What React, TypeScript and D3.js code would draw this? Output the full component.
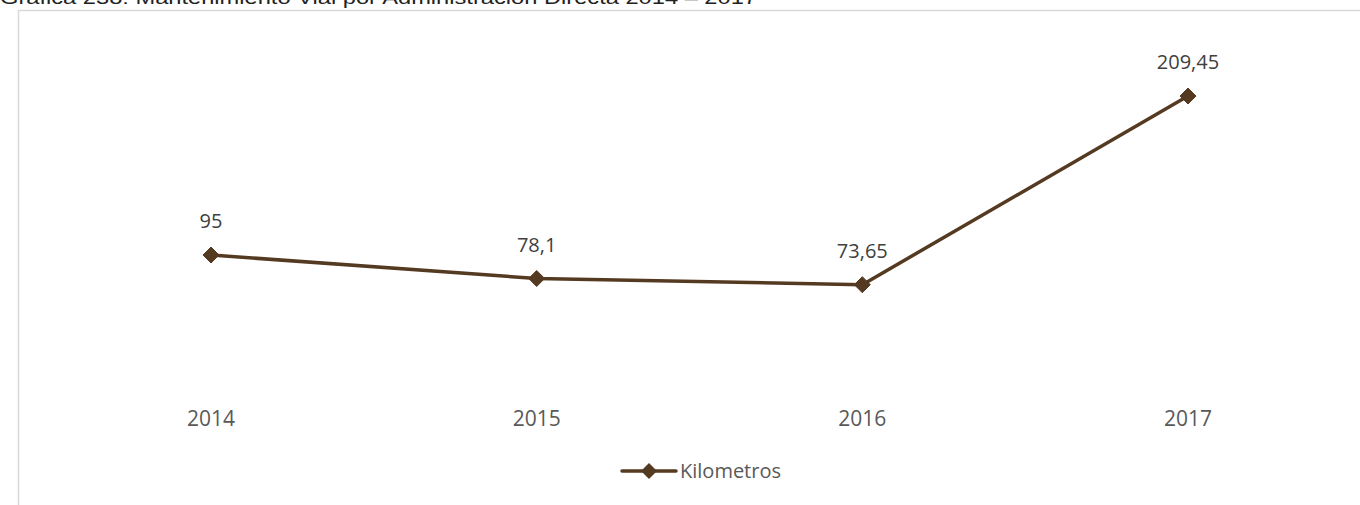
import React from "react";
import * as d3 from "d3";

const title = "Gráfica 238: Mantenimiento Vial por Administración Directa 2014 – 2017";
const categories = ["2014", "2015", "2016", "2017"];
const values = [95, 78.1, 73.65, 209.45];
const labels = ["95", "78,1", "73,65", "209,45"];
const seriesName = "Kilometros";

export default function App() {
  const W = 1360, H = 505;
  const x = d3.scalePoint<string>().domain(categories).range([211, 1188]);
  const y = d3.scaleLinear().domain([0, 250]).range([387, 39.7]);
  const line = d3.line<number>().x((_, i) => x(categories[i])!).y((d) => y(d));
  const color = "#553A22";
  const diamond = (cx: number, cy: number, r: number) =>
    `M${cx},${cy - r}L${cx + r},${cy}L${cx},${cy + r}L${cx - r},${cy}Z`;
  const font = "'Open Sans', sans-serif";
  return (
    <svg width={W} height={H} style={{ position: "absolute", left: 0, top: 0, background: "#fff" }}>
      <text x={0} y={4} fontFamily="'Liberation Sans', sans-serif" fontSize={18} fill="#222" textLength={757} lengthAdjust="spacingAndGlyphs">{title}</text>
      <rect x={18.5} y={10.5} width={1400} height={600} fill="none" stroke="#d9d9d9" strokeWidth={1.5} />
      <path d={line(values)!} fill="none" stroke={color} strokeWidth={3.5} strokeLinejoin="round" />
      {values.map((v, i) => (
        <path key={i} d={diamond(x(categories[i])!, y(v), 8)} fill={color} stroke={color} strokeWidth={1} strokeLinejoin="round" />
      ))}
      {values.map((v, i) => (
        <text key={"l" + i} x={x(categories[i])!} y={y(v) - 27} textAnchor="middle" fontFamily={font} fontSize={20} fill="#404040">{labels[i]}</text>
      ))}
      {categories.map((c) => (
        <text key={c} x={x(c)!} y={426} textAnchor="middle" fontFamily={font} fontSize={21} fill="#595959">{c}</text>
      ))}
      <line x1={622} x2={676} y1={471} y2={471} stroke={color} strokeWidth={3.5} strokeLinecap="round" />
      <path d={diamond(649, 471, 8)} fill={color} />
      <text x={680} y={478} fontFamily={font} fontSize={20} fill="#595959">{seriesName}</text>
    </svg>
  );
}
